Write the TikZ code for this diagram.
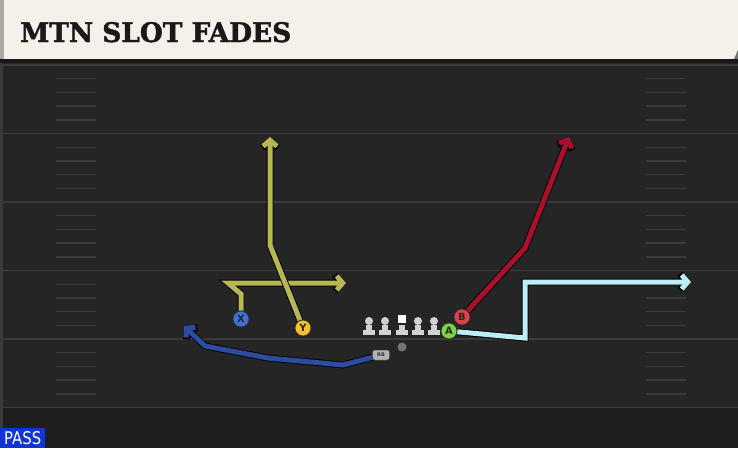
\documentclass[tikz,border=0pt]{standalone}
\usepackage{fontspec}
\newfontfamily\titlefont{DejaVu Serif}[FakeBold=1.6]
\newfontfamily\tagfont{DejaVu Sans}
\usetikzlibrary{arrows.meta}

\definecolor{headbg}{HTML}{F4F1EA}
\definecolor{headedge}{HTML}{A9A9A6}
\definecolor{fieldbg}{HTML}{252525}
\definecolor{endbg}{HTML}{1E1E1E}
\definecolor{yardline}{HTML}{3A3A3A}
\definecolor{passblue}{HTML}{1233D6}
\definecolor{olive}{HTML}{B8B752}
\definecolor{fadered}{HTML}{A8102C}
\definecolor{skyroute}{HTML}{BDEEF7}
\definecolor{rbroute}{HTML}{2B4C9F}
\definecolor{xblue}{HTML}{3E72D8}
\definecolor{yyellow}{HTML}{F3C22E}
\definecolor{bred}{HTML}{E0414B}
\definecolor{agreen}{HTML}{7FD33D}
\definecolor{linegray}{HTML}{D2D2D2}

\tikzset{
  blocker/.pic={
    \fill[linegray] (0,-4) circle (4);
    \fill[linegray] (-3,0) rectangle (3,5);
    \fill[linegray] (-6,5) rectangle (6,10);
  },
  snapper/.pic={
    \fill[white] (-4,-10) rectangle (4,-2);
    \fill[linegray] (-3,0) rectangle (3,5);
    \fill[linegray] (-6,5) rectangle (6,10);
  }
}

\begin{document}
\begin{tikzpicture}[x=1pt,y=-1pt,
    route/.style={line width=5pt, line join=miter,
      -{Straight Barb[length=6pt,width=14pt]},
      preaction={draw=black, line width=6.8pt,
        -{Straight Barb[length=6.6pt,width=16pt]}}},
    player/.style={circle, draw=black!80, line width=0.8pt, minimum size=16pt,
      inner sep=0pt, text=black!85, font=\tagfont\bfseries\fontsize{10}{10}\selectfont},
    hash/.style={yardline, line width=1.4pt}]
  \useasboundingbox (0,0) rectangle (738,448);

  % field
  \fill[fieldbg] (0,59) rectangle (738,448);
  \fill[endbg] (0,407.5) rectangle (738,448);
  \fill[yardline] (0,59) rectangle (3,448);
  \foreach \k in {0,...,5}
    \draw[yardline, line width=1.8pt] (3,65+68.5*\k) -- (738,65+68.5*\k);
  \foreach \k in {0,...,4}
    \foreach \j in {1,...,4} {
      \draw[hash] (56,65+68.5*\k+13.7*\j) -- (96,65+68.5*\k+13.7*\j);
      \draw[hash] (646,65+68.5*\k+13.7*\j) -- (686,65+68.5*\k+13.7*\j);
    }

  % header
  \fill[black!90] (0,59) rectangle (738,63);
  \fill[headbg] (0,0) rectangle (738,59);
  \fill[headedge] (0,0) rectangle (4,59);
  \fill[black!55] (738,50) -- (738,59) -- (734,59) -- cycle;
  \node[anchor=base west, inner sep=0pt, text=black!90] (title) at (20,42)
    {\resizebox{271pt}{20pt}{\titlefont\bfseries MTN SLOT FADES}};

  % line
  \pic at (369,325) {blocker};
  \pic at (385,325) {blocker};
  \pic at (402,325) {snapper};
  \pic at (418,325) {blocker};
  \pic at (434,325) {blocker};
  \node[circle, fill=black!55, minimum size=9pt, inner sep=0pt] (qb) at (402,347) {};
  \node[rounded corners=2.5pt, fill=linegray!85!black, draw=black!70, line width=0.5pt,
    minimum width=17pt, minimum height=10pt, inner sep=0pt, text=black!80,
    font=\tagfont\bfseries\fontsize{5}{5}\selectfont] (rb) at (381,355) {RB};

  % players
  \node[player, fill=xblue] (x) at (241,319) {X};
  \node[player, fill=yyellow] (y) at (303,328) {Y};
  \node[player, fill=bred] (b) at (462,317) {B};
  \node[player, fill=agreen] (a) at (449,331) {A};

  % route points
  \coordinate (x1) at (241,294);
  \coordinate (x2) at (228,283);
  \coordinate (xend) at (346,283);
  \coordinate (y1) at (270,245);
  \coordinate (yend) at (270,137);
  \coordinate (b1) at (525,248);
  \coordinate (bend) at (569,137);
  \coordinate (a1) at (525,338);
  \coordinate (a2) at (525,282);
  \coordinate (aend) at (691,282);
  \coordinate (r1) at (343,365);
  \coordinate (r2) at (268,358);
  \coordinate (r3) at (205,346);
  \coordinate (rend) at (184,326);

  % routes
  \draw[route, olive] (x) -- (x1) -- (x2) -- (xend);
  \draw[route, olive] (y) -- (y1) -- (yend);
  \draw[route, fadered] (b) -- (b1) -- (bend);
  \draw[route, skyroute] (a) -- (a1) -- (a2) -- (aend);
  \draw[route, rbroute] (rb) -- (r1) -- (r2) -- (r3) -- (rend);

  \node[fill=passblue, text=white, anchor=south west, minimum width=45pt,
    minimum height=20pt, inner sep=0pt] (playtype) at (0,448)
    {\resizebox{37pt}{13pt}{\tagfont PASS}};
\end{tikzpicture}
\end{document}
